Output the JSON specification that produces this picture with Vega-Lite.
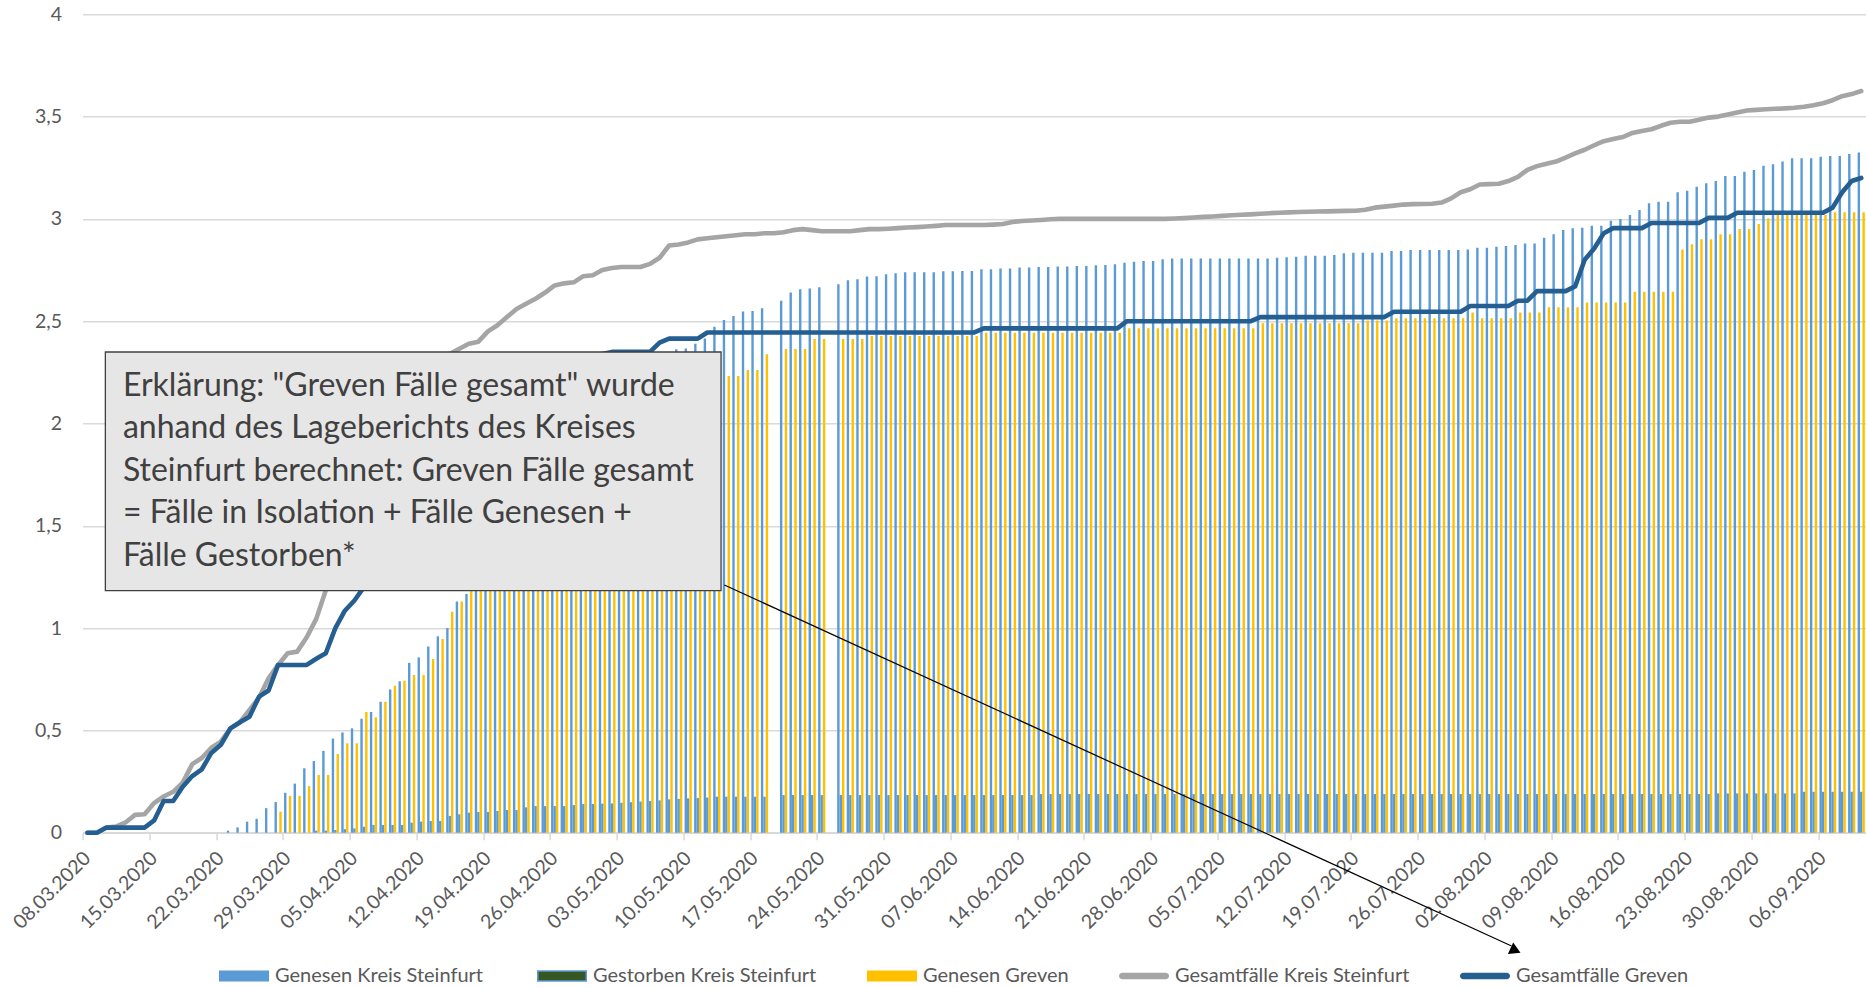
{
"$schema":"https://vega.github.io/schema/vega-lite/v6.json",
"width":1783.4,"height":818.4,
"autosize":{"type":"none"},
"padding":{"left":82.6,"top":14.3,"right":0,"bottom":155.3},
"background":"white",
"config":{"view":{"stroke":null},"font":"Lato"},
"data":{"values":[
{"d":"2020-03-08","kt":0,"gt":0},
{"d":"2020-03-09","kt":0,"gt":0},
{"d":"2020-03-10","kt":0.025,"gt":0.025},
{"d":"2020-03-11","kt":0.03,"gt":0.025},
{"d":"2020-03-12","kt":0.05,"gt":0.025},
{"d":"2020-03-13","kt":0.087,"gt":0.025},
{"d":"2020-03-14","kt":0.09,"gt":0.025},
{"d":"2020-03-15","kt":0.145,"gt":0.06},
{"d":"2020-03-16","kt":0.177,"gt":0.155},
{"d":"2020-03-17","kt":0.2,"gt":0.155},
{"d":"2020-03-18","kt":0.245,"gt":0.225},
{"d":"2020-03-19","kt":0.335,"gt":0.277},
{"d":"2020-03-20","kt":0.365,"gt":0.31},
{"d":"2020-03-21","kt":0.415,"gt":0.39},
{"d":"2020-03-22","kt":0.445,"gt":0.43},
{"d":"2020-03-23","gk":0.01,"kt":0.51,"gt":0.51},
{"d":"2020-03-24","gk":0.026,"kt":0.54,"gt":0.54},
{"d":"2020-03-25","gk":0.054,"kt":0.6,"gt":0.567},
{"d":"2020-03-26","gk":0.068,"kt":0.66,"gt":0.665},
{"d":"2020-03-27","gk":0.12,"kt":0.755,"gt":0.695},
{"d":"2020-03-28","gk":0.15,"gg":0.103,"kt":0.82,"gt":0.82},
{"d":"2020-03-29","gk":0.195,"gg":0.18,"kt":0.877,"gt":0.82},
{"d":"2020-03-30","gk":0.24,"gg":0.18,"kt":0.885,"gt":0.82},
{"d":"2020-03-31","gk":0.315,"gg":0.228,"kt":0.955,"gt":0.82},
{"d":"2020-04-01","gk":0.35,"ds":0.01,"gg":0.282,"kt":1.045,"gt":0.85},
{"d":"2020-04-02","gk":0.4,"ds":0.01,"gg":0.282,"kt":1.185,"gt":0.877},
{"d":"2020-04-03","gk":0.46,"ds":0.013,"gg":0.385,"kt":1.33,"gt":1.0},
{"d":"2020-04-04","gk":0.49,"ds":0.017,"gg":0.437,"kt":1.47,"gt":1.085},
{"d":"2020-04-05","gk":0.51,"ds":0.021,"gg":0.437,"kt":1.6,"gt":1.135},
{"d":"2020-04-06","gk":0.557,"ds":0.029,"gg":0.59,"kt":1.72,"gt":1.2},
{"d":"2020-04-07","gk":0.59,"ds":0.038,"gg":0.564,"kt":1.83,"gt":1.27},
{"d":"2020-04-08","gk":0.64,"ds":0.038,"gg":0.64,"kt":1.93,"gt":1.35},
{"d":"2020-04-09","gk":0.7,"ds":0.038,"gg":0.718,"kt":2.02,"gt":1.43},
{"d":"2020-04-10","gk":0.74,"ds":0.038,"gg":0.743,"kt":2.1,"gt":1.51},
{"d":"2020-04-11","gk":0.83,"ds":0.049,"gg":0.771,"kt":2.16,"gt":1.59},
{"d":"2020-04-12","gk":0.857,"ds":0.054,"gg":0.771,"kt":2.22,"gt":1.67},
{"d":"2020-04-13","gk":0.91,"ds":0.057,"gg":0.849,"kt":2.27,"gt":1.74},
{"d":"2020-04-14","gk":0.96,"ds":0.057,"gg":0.947,"kt":2.31,"gt":1.81},
{"d":"2020-04-15","gk":1.0,"ds":0.082,"gg":1.08,"kt":2.34,"gt":1.87},
{"d":"2020-04-16","gk":1.13,"ds":0.09,"gg":1.13,"kt":2.365,"gt":1.93},
{"d":"2020-04-17","gk":1.167,"ds":0.098,"gg":1.2,"kt":2.39,"gt":1.98},
{"d":"2020-04-18","gk":1.22,"ds":0.101,"gg":1.27,"kt":2.4,"gt":2.03},
{"d":"2020-04-19","gk":1.3,"ds":0.101,"gg":1.34,"kt":2.45,"gt":2.07},
{"d":"2020-04-20","gk":1.38,"ds":0.106,"gg":1.41,"kt":2.48,"gt":2.11},
{"d":"2020-04-21","gk":1.46,"ds":0.111,"gg":1.48,"kt":2.52,"gt":2.15},
{"d":"2020-04-22","gk":1.54,"ds":0.111,"gg":1.55,"kt":2.56,"gt":2.18},
{"d":"2020-04-23","gk":1.62,"ds":0.124,"gg":1.62,"kt":2.585,"gt":2.21},
{"d":"2020-04-24","gk":1.7,"ds":0.13,"gg":1.68,"kt":2.61,"gt":2.24},
{"d":"2020-04-25","gk":1.77,"ds":0.13,"gg":1.74,"kt":2.64,"gt":2.26},
{"d":"2020-04-26","gk":1.84,"ds":0.13,"gg":1.8,"kt":2.675,"gt":2.28},
{"d":"2020-04-27","gk":1.91,"ds":0.13,"gg":1.85,"kt":2.685,"gt":2.3},
{"d":"2020-04-28","gk":1.97,"ds":0.135,"gg":1.9,"kt":2.69,"gt":2.31},
{"d":"2020-04-29","gk":2.03,"ds":0.14,"gg":1.95,"kt":2.72,"gt":2.32},
{"d":"2020-04-30","gk":2.08,"ds":0.14,"gg":1.99,"kt":2.725,"gt":2.33},
{"d":"2020-05-01","gk":2.13,"ds":0.142,"gg":2.03,"kt":2.75,"gt":2.34},
{"d":"2020-05-02","gk":2.17,"ds":0.143,"gg":2.06,"kt":2.76,"gt":2.35},
{"d":"2020-05-03","gk":2.21,"ds":0.146,"gg":2.09,"kt":2.765,"gt":2.35},
{"d":"2020-05-04","gk":2.24,"ds":0.149,"gg":2.11,"kt":2.765,"gt":2.35},
{"d":"2020-05-05","gk":2.27,"ds":0.152,"gg":2.13,"kt":2.765,"gt":2.35},
{"d":"2020-05-06","gk":2.3,"ds":0.155,"gg":2.15,"kt":2.78,"gt":2.35},
{"d":"2020-05-07","gk":2.32,"ds":0.158,"gg":2.17,"kt":2.81,"gt":2.395},
{"d":"2020-05-08","gk":2.34,"ds":0.163,"gg":2.18,"kt":2.87,"gt":2.415},
{"d":"2020-05-09","gk":2.363,"ds":0.165,"gg":2.19,"kt":2.875,"gt":2.415},
{"d":"2020-05-10","gk":2.367,"ds":0.168,"gg":2.2,"kt":2.885,"gt":2.415},
{"d":"2020-05-11","gk":2.39,"ds":0.17,"gg":2.21,"kt":2.9,"gt":2.415},
{"d":"2020-05-12","gk":2.416,"ds":0.172,"gg":2.22,"kt":2.905,"gt":2.445},
{"d":"2020-05-13","gk":2.473,"ds":0.176,"gg":2.225,"kt":2.91,"gt":2.445},
{"d":"2020-05-14","gk":2.506,"ds":0.176,"gg":2.232,"kt":2.915,"gt":2.445},
{"d":"2020-05-15","gk":2.525,"ds":0.176,"gg":2.232,"kt":2.92,"gt":2.445},
{"d":"2020-05-16","gk":2.547,"ds":0.176,"gg":2.262,"kt":2.925,"gt":2.445},
{"d":"2020-05-17","gk":2.55,"ds":0.176,"gg":2.262,"kt":2.925,"gt":2.445},
{"d":"2020-05-18","gk":2.563,"ds":0.176,"gg":2.338,"kt":2.93,"gt":2.445},
{"d":"2020-05-19","kt":2.93,"gt":2.445},
{"d":"2020-05-20","gk":2.6,"ds":0.184,"gg":2.364,"kt":2.935,"gt":2.445},
{"d":"2020-05-21","gk":2.64,"ds":0.184,"gg":2.364,"kt":2.945,"gt":2.445},
{"d":"2020-05-22","gk":2.656,"ds":0.184,"gg":2.364,"kt":2.95,"gt":2.445},
{"d":"2020-05-23","gk":2.66,"ds":0.184,"gg":2.413,"kt":2.945,"gt":2.445},
{"d":"2020-05-24","gk":2.666,"ds":0.184,"gg":2.413,"kt":2.94,"gt":2.445},
{"d":"2020-05-25","kt":2.94,"gt":2.445},
{"d":"2020-05-26","gk":2.68,"ds":0.184,"gg":2.413,"kt":2.94,"gt":2.445},
{"d":"2020-05-27","gk":2.7,"ds":0.184,"gg":2.413,"kt":2.94,"gt":2.445},
{"d":"2020-05-28","gk":2.705,"ds":0.184,"gg":2.413,"kt":2.945,"gt":2.445},
{"d":"2020-05-29","gk":2.718,"ds":0.184,"gg":2.428,"kt":2.95,"gt":2.445},
{"d":"2020-05-30","gk":2.72,"ds":0.184,"gg":2.428,"kt":2.95,"gt":2.445},
{"d":"2020-05-31","gk":2.73,"ds":0.184,"gg":2.428,"kt":2.952,"gt":2.445},
{"d":"2020-06-01","gk":2.734,"ds":0.184,"gg":2.428,"kt":2.955,"gt":2.445},
{"d":"2020-06-02","gk":2.739,"ds":0.184,"gg":2.428,"kt":2.958,"gt":2.445},
{"d":"2020-06-03","gk":2.739,"ds":0.184,"gg":2.428,"kt":2.96,"gt":2.445},
{"d":"2020-06-04","gk":2.739,"ds":0.184,"gg":2.428,"kt":2.963,"gt":2.445},
{"d":"2020-06-05","gk":2.739,"ds":0.184,"gg":2.428,"kt":2.966,"gt":2.445},
{"d":"2020-06-06","gk":2.744,"ds":0.184,"gg":2.428,"kt":2.97,"gt":2.445},
{"d":"2020-06-07","gk":2.744,"ds":0.184,"gg":2.428,"kt":2.97,"gt":2.445},
{"d":"2020-06-08","gk":2.745,"ds":0.184,"gg":2.428,"kt":2.97,"gt":2.445},
{"d":"2020-06-09","gk":2.745,"ds":0.184,"gg":2.428,"kt":2.97,"gt":2.445},
{"d":"2020-06-10","gk":2.754,"ds":0.184,"gg":2.444,"kt":2.97,"gt":2.465},
{"d":"2020-06-11","gk":2.754,"ds":0.184,"gg":2.444,"kt":2.972,"gt":2.465},
{"d":"2020-06-12","gk":2.757,"ds":0.184,"gg":2.444,"kt":2.975,"gt":2.465},
{"d":"2020-06-13","gk":2.757,"ds":0.184,"gg":2.444,"kt":2.985,"gt":2.465},
{"d":"2020-06-14","gk":2.762,"ds":0.184,"gg":2.444,"kt":2.99,"gt":2.465},
{"d":"2020-06-15","gk":2.762,"ds":0.184,"gg":2.444,"kt":2.992,"gt":2.465},
{"d":"2020-06-16","gk":2.765,"ds":0.189,"gg":2.444,"kt":2.995,"gt":2.465},
{"d":"2020-06-17","gk":2.765,"ds":0.189,"gg":2.444,"kt":2.998,"gt":2.465},
{"d":"2020-06-18","gk":2.767,"ds":0.189,"gg":2.444,"kt":3.0,"gt":2.465},
{"d":"2020-06-19","gk":2.767,"ds":0.189,"gg":2.444,"kt":3.0,"gt":2.465},
{"d":"2020-06-20","gk":2.77,"ds":0.189,"gg":2.444,"kt":3.0,"gt":2.465},
{"d":"2020-06-21","gk":2.77,"ds":0.189,"gg":2.444,"kt":3.0,"gt":2.465},
{"d":"2020-06-22","gk":2.773,"ds":0.189,"gg":2.444,"kt":3.0,"gt":2.465},
{"d":"2020-06-23","gk":2.775,"ds":0.189,"gg":2.444,"kt":3.0,"gt":2.465},
{"d":"2020-06-24","gk":2.778,"ds":0.189,"gg":2.444,"kt":3.0,"gt":2.465},
{"d":"2020-06-25","gk":2.786,"ds":0.189,"gg":2.465,"kt":3.0,"gt":2.5},
{"d":"2020-06-26","gk":2.79,"ds":0.189,"gg":2.465,"kt":3.0,"gt":2.5},
{"d":"2020-06-27","gk":2.794,"ds":0.189,"gg":2.465,"kt":3.0,"gt":2.5},
{"d":"2020-06-28","gk":2.794,"ds":0.189,"gg":2.465,"kt":3.0,"gt":2.5},
{"d":"2020-06-29","gk":2.803,"ds":0.189,"gg":2.465,"kt":3.0,"gt":2.5},
{"d":"2020-06-30","gk":2.806,"ds":0.189,"gg":2.465,"kt":3.002,"gt":2.5},
{"d":"2020-07-01","gk":2.806,"ds":0.189,"gg":2.465,"kt":3.004,"gt":2.5},
{"d":"2020-07-02","gk":2.806,"ds":0.189,"gg":2.465,"kt":3.007,"gt":2.5},
{"d":"2020-07-03","gk":2.806,"ds":0.189,"gg":2.465,"kt":3.01,"gt":2.5},
{"d":"2020-07-04","gk":2.806,"ds":0.189,"gg":2.465,"kt":3.012,"gt":2.5},
{"d":"2020-07-05","gk":2.806,"ds":0.189,"gg":2.465,"kt":3.015,"gt":2.5},
{"d":"2020-07-06","gk":2.806,"ds":0.189,"gg":2.465,"kt":3.018,"gt":2.5},
{"d":"2020-07-07","gk":2.806,"ds":0.189,"gg":2.465,"kt":3.02,"gt":2.5},
{"d":"2020-07-08","gk":2.806,"ds":0.189,"gg":2.465,"kt":3.022,"gt":2.5},
{"d":"2020-07-09","gk":2.806,"ds":0.189,"gg":2.49,"kt":3.025,"gt":2.52},
{"d":"2020-07-10","gk":2.807,"ds":0.189,"gg":2.49,"kt":3.028,"gt":2.52},
{"d":"2020-07-11","gk":2.81,"ds":0.189,"gg":2.49,"kt":3.03,"gt":2.52},
{"d":"2020-07-12","gk":2.812,"ds":0.189,"gg":2.49,"kt":3.032,"gt":2.52},
{"d":"2020-07-13","gk":2.815,"ds":0.189,"gg":2.49,"kt":3.034,"gt":2.52},
{"d":"2020-07-14","gk":2.82,"ds":0.189,"gg":2.49,"kt":3.035,"gt":2.52},
{"d":"2020-07-15","gk":2.82,"ds":0.189,"gg":2.49,"kt":3.036,"gt":2.52},
{"d":"2020-07-16","gk":2.82,"ds":0.189,"gg":2.49,"kt":3.037,"gt":2.52},
{"d":"2020-07-17","gk":2.823,"ds":0.189,"gg":2.49,"kt":3.038,"gt":2.52},
{"d":"2020-07-18","gk":2.832,"ds":0.189,"gg":2.49,"kt":3.039,"gt":2.52},
{"d":"2020-07-19","gk":2.835,"ds":0.189,"gg":2.49,"kt":3.04,"gt":2.52},
{"d":"2020-07-20","gk":2.835,"ds":0.189,"gg":2.503,"kt":3.045,"gt":2.52},
{"d":"2020-07-21","gk":2.835,"ds":0.189,"gg":2.503,"kt":3.055,"gt":2.52},
{"d":"2020-07-22","gk":2.835,"ds":0.189,"gg":2.503,"kt":3.06,"gt":2.52},
{"d":"2020-07-23","gk":2.843,"ds":0.189,"gg":2.514,"kt":3.065,"gt":2.546},
{"d":"2020-07-24","gk":2.843,"ds":0.189,"gg":2.514,"kt":3.07,"gt":2.546},
{"d":"2020-07-25","gk":2.848,"ds":0.189,"gg":2.514,"kt":3.072,"gt":2.546},
{"d":"2020-07-26","gk":2.848,"ds":0.189,"gg":2.514,"kt":3.073,"gt":2.546},
{"d":"2020-07-27","gk":2.848,"ds":0.189,"gg":2.514,"kt":3.074,"gt":2.546},
{"d":"2020-07-28","gk":2.848,"ds":0.189,"gg":2.514,"kt":3.08,"gt":2.546},
{"d":"2020-07-29","gk":2.848,"ds":0.189,"gg":2.514,"kt":3.1,"gt":2.546},
{"d":"2020-07-30","gk":2.848,"ds":0.189,"gg":2.514,"kt":3.13,"gt":2.546},
{"d":"2020-07-31","gk":2.851,"ds":0.189,"gg":2.542,"kt":3.145,"gt":2.574},
{"d":"2020-08-01","gk":2.859,"ds":0.189,"gg":2.514,"kt":3.168,"gt":2.574},
{"d":"2020-08-02","gk":2.859,"ds":0.189,"gg":2.514,"kt":3.17,"gt":2.574},
{"d":"2020-08-03","gk":2.864,"ds":0.189,"gg":2.514,"kt":3.172,"gt":2.574},
{"d":"2020-08-04","gk":2.868,"ds":0.189,"gg":2.514,"kt":3.185,"gt":2.574},
{"d":"2020-08-05","gk":2.872,"ds":0.189,"gg":2.542,"kt":3.205,"gt":2.6},
{"d":"2020-08-06","gk":2.88,"ds":0.189,"gg":2.542,"kt":3.24,"gt":2.6},
{"d":"2020-08-07","gk":2.88,"ds":0.189,"gg":2.542,"kt":3.258,"gt":2.647},
{"d":"2020-08-08","gk":2.908,"ds":0.189,"gg":2.568,"kt":3.27,"gt":2.647},
{"d":"2020-08-09","gk":2.925,"ds":0.189,"gg":2.568,"kt":3.28,"gt":2.647},
{"d":"2020-08-10","gk":2.946,"ds":0.189,"gg":2.568,"kt":3.3,"gt":2.647},
{"d":"2020-08-11","gk":2.954,"ds":0.189,"gg":2.568,"kt":3.32,"gt":2.67},
{"d":"2020-08-12","gk":2.957,"ds":0.189,"gg":2.592,"kt":3.338,"gt":2.8},
{"d":"2020-08-13","gk":2.967,"ds":0.189,"gg":2.592,"kt":3.36,"gt":2.855},
{"d":"2020-08-14","gk":2.967,"ds":0.189,"gg":2.592,"kt":3.38,"gt":2.93},
{"d":"2020-08-15","gk":2.991,"ds":0.189,"gg":2.592,"kt":3.39,"gt":2.955},
{"d":"2020-08-16","gk":3.0,"ds":0.189,"gg":2.592,"kt":3.4,"gt":2.955},
{"d":"2020-08-17","gk":3.019,"ds":0.189,"gg":2.644,"kt":3.42,"gt":2.955},
{"d":"2020-08-18","gk":3.043,"ds":0.189,"gg":2.644,"kt":3.43,"gt":2.955},
{"d":"2020-08-19","gk":3.076,"ds":0.189,"gg":2.644,"kt":3.438,"gt":2.98},
{"d":"2020-08-20","gk":3.084,"ds":0.189,"gg":2.644,"kt":3.455,"gt":2.98},
{"d":"2020-08-21","gk":3.084,"ds":0.189,"gg":2.644,"kt":3.47,"gt":2.98},
{"d":"2020-08-22","gk":3.13,"ds":0.189,"gg":2.851,"kt":3.475,"gt":2.98},
{"d":"2020-08-23","gk":3.138,"ds":0.189,"gg":2.876,"kt":3.475,"gt":2.98},
{"d":"2020-08-24","gk":3.157,"ds":0.189,"gg":2.9,"kt":3.485,"gt":2.98},
{"d":"2020-08-25","gk":3.174,"ds":0.189,"gg":2.9,"kt":3.495,"gt":3.005},
{"d":"2020-08-26","gk":3.185,"ds":0.192,"gg":2.925,"kt":3.5,"gt":3.005},
{"d":"2020-08-27","gk":3.21,"ds":0.192,"gg":2.925,"kt":3.51,"gt":3.005},
{"d":"2020-08-28","gk":3.21,"ds":0.192,"gg":2.951,"kt":3.52,"gt":3.03},
{"d":"2020-08-29","gk":3.231,"ds":0.192,"gg":2.951,"kt":3.53,"gt":3.03},
{"d":"2020-08-30","gk":3.239,"ds":0.192,"gg":2.975,"kt":3.533,"gt":3.03},
{"d":"2020-08-31","gk":3.26,"ds":0.192,"gg":3.003,"kt":3.536,"gt":3.03},
{"d":"2020-09-01","gk":3.267,"ds":0.192,"gg":3.019,"kt":3.538,"gt":3.03},
{"d":"2020-09-02","gk":3.28,"ds":0.192,"gg":3.019,"kt":3.54,"gt":3.03},
{"d":"2020-09-03","gk":3.296,"ds":0.192,"gg":3.019,"kt":3.543,"gt":3.03},
{"d":"2020-09-04","gk":3.296,"ds":0.2,"gg":3.019,"kt":3.548,"gt":3.03},
{"d":"2020-09-05","gk":3.296,"ds":0.2,"gg":3.019,"kt":3.555,"gt":3.03},
{"d":"2020-09-06","gk":3.304,"ds":0.2,"gg":3.019,"kt":3.565,"gt":3.03},
{"d":"2020-09-07","gk":3.307,"ds":0.2,"gg":3.032,"kt":3.58,"gt":3.055},
{"d":"2020-09-08","gk":3.307,"ds":0.2,"gg":3.032,"kt":3.6,"gt":3.13},
{"d":"2020-09-09","gk":3.317,"ds":0.2,"gg":3.032,"kt":3.61,"gt":3.185},
{"d":"2020-09-10","gk":3.324,"ds":0.2,"gg":3.032,"kt":3.625,"gt":3.2}
]},
"layer":[
{"mark":{"type":"bar","width":2.4,"xOffset":-2.4,"color":"#5b9bd5"},
 "encoding":{
  "x":{"field":"d","type":"temporal","title":null,"scale":{"type":"utc","nice":false,"padding":0,"domain":[{"year":2020,"month":3,"date":7,"hours":12,"utc":true},{"year":2020,"month":9,"date":10,"hours":12,"utc":true}]},
   "axis":{"title":null,"values":[
    {"year":2020,"month":3,"date":8,"utc":true},{"year":2020,"month":3,"date":15,"utc":true},{"year":2020,"month":3,"date":22,"utc":true},{"year":2020,"month":3,"date":29,"utc":true},
    {"year":2020,"month":4,"date":5,"utc":true},{"year":2020,"month":4,"date":12,"utc":true},{"year":2020,"month":4,"date":19,"utc":true},{"year":2020,"month":4,"date":26,"utc":true},
    {"year":2020,"month":5,"date":3,"utc":true},{"year":2020,"month":5,"date":10,"utc":true},{"year":2020,"month":5,"date":17,"utc":true},{"year":2020,"month":5,"date":24,"utc":true},{"year":2020,"month":5,"date":31,"utc":true},
    {"year":2020,"month":6,"date":7,"utc":true},{"year":2020,"month":6,"date":14,"utc":true},{"year":2020,"month":6,"date":21,"utc":true},{"year":2020,"month":6,"date":28,"utc":true},
    {"year":2020,"month":7,"date":5,"utc":true},{"year":2020,"month":7,"date":12,"utc":true},{"year":2020,"month":7,"date":19,"utc":true},{"year":2020,"month":7,"date":26,"utc":true},
    {"year":2020,"month":8,"date":2,"utc":true},{"year":2020,"month":8,"date":9,"utc":true},{"year":2020,"month":8,"date":16,"utc":true},{"year":2020,"month":8,"date":23,"utc":true},{"year":2020,"month":8,"date":30,"utc":true},
    {"year":2020,"month":9,"date":6,"utc":true}],
    "format":"%d.%m.%Y","labelAngle":-45,"labelAlign":"right","labelBaseline":"middle",
    "labelFontSize":19.5,"labelColor":"#595959","labelFont":"Lato","labelPadding":15,"labelOffset":4.3,"tickOffset":-4.77,
    "tickSize":7,"tickColor":"#d9d9d9","tickWidth":1.5,"domainColor":"#d9d9d9","domainWidth":1.5,"grid":false,
    "labelOverlap":false,"labelFlush":false,"labelBound":false}},
  "y":{"field":"gk","type":"quantitative","title":null,"scale":{"domain":[0,4],"nice":false},
   "axis":{"title":null,"values":[0,0.5,1,1.5,2,2.5,3,3.5,4],"labelExpr":"replace(format(datum.value, '.1~f'), '.', ',')",
    "grid":true,"gridColor":"#d9d9d9","gridWidth":1.5,"domain":false,"ticks":false,"tickSize":0,"labelPadding":21,
    "labelFontSize":19.5,"labelColor":"#595959","labelFont":"Lato"}}}},
{"mark":{"type":"bar","width":2.4,"xOffset":0,"color":"#5b9bd5"},
 "encoding":{"x":{"field":"d","type":"temporal","title":null},"y":{"field":"ds","type":"quantitative","title":null}}},
{"mark":{"type":"bar","width":2.4,"xOffset":2.4,"color":"#ffc000"},
 "encoding":{"x":{"field":"d","type":"temporal","title":null},"y":{"field":"gg","type":"quantitative","title":null}}},
{"mark":{"type":"line","color":"#a5a5a5","strokeWidth":4.6,"strokeCap":"round","strokeJoin":"round"},
 "encoding":{"x":{"field":"d","type":"temporal","title":null},"y":{"field":"kt","type":"quantitative","title":null}}},
{"mark":{"type":"line","color":"#255e91","strokeWidth":4.6,"strokeCap":"round","strokeJoin":"round"},
 "encoding":{"x":{"field":"d","type":"temporal","title":null},"y":{"field":"gt","type":"quantitative","title":null}}},
{"data":{"values":[{}]},
 "mark":{"type":"rect","fill":"#e7e6e6","stroke":"#404040","strokeWidth":1.3},
 "encoding":{
  "x":{"datum":{"year":2020,"month":3,"date":9,"hours":21,"minutes":17,"utc":true},"type":"temporal","title":null},
  "x2":{"datum":{"year":2020,"month":5,"date":13,"hours":10,"minutes":42,"utc":true}},
  "y":{"datum":2.3495,"type":"quantitative","title":null},
  "y2":{"datum":1.1828}}},
{"data":{"values":[{}]},
 "mark":{"type":"text","text":["Erklärung: \"Greven Fälle gesamt\" wurde","anhand des Lageberichts des Kreises","Steinfurt berechnet: Greven Fälle gesamt","= Fälle in Isolation + Fälle Genesen +","Fälle Gestorben*"],
  "align":"left","baseline":"alphabetic","fontSize":32,"lineHeight":42.4,"color":"#404040","font":"Lato"},
 "encoding":{
  "x":{"datum":{"year":2020,"month":3,"date":11,"hours":17,"minutes":30,"utc":true},"type":"temporal","title":null},
  "y":{"datum":2.1344,"type":"quantitative","title":null}}},
{"data":{"values":[{}]},
 "mark":{"type":"rule","color":"#000000","strokeWidth":1.2},
 "encoding":{
  "x":{"datum":{"year":2020,"month":5,"date":13,"hours":19,"utc":true},"type":"temporal","title":null},
  "x2":{"datum":{"year":2020,"month":8,"date":4,"hours":7,"minutes":55,"utc":true}},
  "y":{"datum":1.2106,"type":"quantitative","title":null},
  "y2":{"datum":-0.5537}}},
{"data":{"values":[{}]},
 "mark":{"type":"point","shape":"triangle-right","angle":24.7,"size":160,"filled":true,"color":"#000000","opacity":1},
 "encoding":{
  "x":{"datum":{"year":2020,"month":8,"date":4,"hours":18,"utc":true},"type":"temporal","title":null},
  "y":{"datum":-0.5758,"type":"quantitative","title":null}}},
{"data":{"values":[{"s":"Genesen Kreis Steinfurt"},{"s":"Gestorben Kreis Steinfurt"},{"s":"Genesen Greven"},{"s":"Gesamtfälle Kreis Steinfurt"},{"s":"Gesamtfälle Greven"}]},
 "mark":{"type":"point","filled":true,"size":0,"opacity":1},
 "encoding":{
  "color":{"field":"s","type":"nominal",
   "scale":{"domain":["Genesen Kreis Steinfurt","Gestorben Kreis Steinfurt","Genesen Greven","Gesamtfälle Kreis Steinfurt","Gesamtfälle Greven"],"range":["#5b9bd5","#375623","#ffc000","#a5a5a5","#255e91"]},
   "legend":{"title":null,"orient":"none","legendX":136.4,"legendY":951.7,"direction":"horizontal","columns":5,"symbolSize":2500,"symbolStrokeWidth":0,
    "labelFontSize":20,"labelColor":"#595959","labelFont":"Lato","labelOffset":36,"columnPadding":50,"padding":0,"labelLimit":500,"symbolOpacity":1,
    "encode":{"symbols":{"update":{"stroke":{"signal":"datum.value === 'Gestorben Kreis Steinfurt' ? '#5b9bd5' : 'transparent'"},"strokeWidth":{"signal":"datum.value === 'Gestorben Kreis Steinfurt' ? 1.5 : 0"}}}}}},
  "shape":{"field":"s","type":"nominal",
   "scale":{"domain":["Genesen Kreis Steinfurt","Gestorben Kreis Steinfurt","Genesen Greven","Gesamtfälle Kreis Steinfurt","Gesamtfälle Greven"],
    "range":["M-0.4,-0.22H1.6V0.22H-0.4Z","M-0.37,-0.2H1.57V0.2H-0.37Z","M-0.4,-0.22H1.6V0.22H-0.4Z","M-0.27,-0.13H1.47A0.13,0.13,0,0,1,1.47,0.13H-0.27A0.13,0.13,0,0,1,-0.27,-0.13Z","M-0.27,-0.13H1.47A0.13,0.13,0,0,1,1.47,0.13H-0.27A0.13,0.13,0,0,1,-0.27,-0.13Z"]},
   "legend":{"title":null,"orient":"none","legendX":136.4,"legendY":951.7,"direction":"horizontal","columns":5,"symbolSize":2500,"symbolStrokeWidth":0,
    "labelFontSize":20,"labelColor":"#595959","labelFont":"Lato","labelOffset":36,"columnPadding":50,"padding":0,"labelLimit":500,"symbolOpacity":1}}}}
]
}
